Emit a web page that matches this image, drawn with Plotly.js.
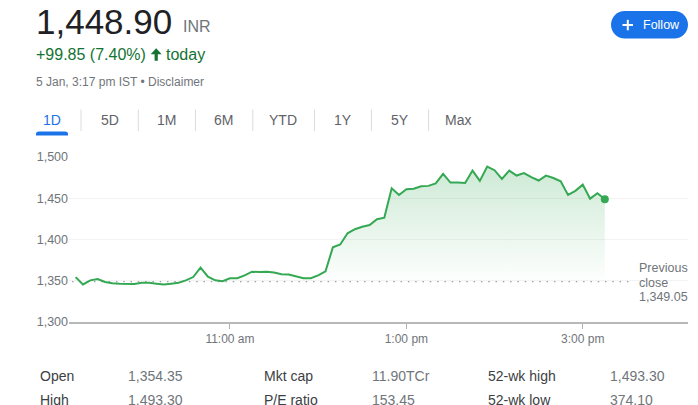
<!DOCTYPE html>
<html>
<head>
<meta charset="utf-8">
<script src="https://cdn.plot.ly/plotly-3.0.1.min.js"></script>
<style>
  html, body { margin: 0; padding: 0; background: #fff; }
  #chart { width: 698px; height: 405px; }
</style>
</head>
<body>
<div id="chart"></div>
<script>
// intraday prices, 5 minute samples
const day = '2024-01-05';
const times = [
    '09:15', '09:20', '09:25', '09:30', '09:35', '09:40', '09:45', '09:50', '09:55',
    '10:00', '10:05', '10:10', '10:15', '10:20', '10:25', '10:30', '10:35', '10:40', '10:45', '10:50', '10:55',
    '11:00', '11:05', '11:10', '11:15', '11:20', '11:25', '11:30', '11:35', '11:40', '11:45', '11:50', '11:55',
    '12:00', '12:05', '12:10', '12:15', '12:20', '12:25', '12:30', '12:35', '12:40', '12:45', '12:50', '12:55',
    '13:00', '13:05', '13:10', '13:15', '13:20', '13:25', '13:30', '13:35', '13:40', '13:45', '13:50', '13:55',
    '14:00', '14:05', '14:10', '14:15', '14:20', '14:25', '14:30', '14:35', '14:40', '14:45', '14:50', '14:55',
    '15:00', '15:05', '15:10', '15:15'
];
const prices = [
    1354.35, 1345.5, 1350.5, 1352, 1348.5, 1347, 1346.5, 1346.5, 1346,
    1347.5, 1347.5, 1346.5, 1345.5, 1346.5, 1347.5, 1350.5, 1354.5, 1366, 1355, 1350.5, 1349.5,
    1353, 1353, 1356.5, 1361, 1360.5, 1361, 1360, 1358, 1357.5, 1355, 1353, 1353,
    1356.5, 1361.5, 1390.5, 1394, 1407.5, 1412.5, 1415.5, 1417.5, 1424.5, 1426.5, 1462, 1454,
    1461, 1461.5, 1464.5, 1465, 1468, 1479.5, 1469, 1469, 1468.5, 1483.5, 1471, 1488.5,
    1484, 1473.5, 1483.5, 1477.5, 1480.5, 1475.5, 1471.5, 1477.5, 1474.5, 1470.5, 1454, 1459,
    1466.5, 1449.5, 1456, 1448.9
];
const prevClose = 1349.05;

const yTicks = [1300, 1350, 1400, 1450, 1500];
const yTickText = ['1,300', '1,350', '1,400', '1,450', '1,500'];
const xTickTimes = ['11:00', '13:00', '15:00'];
const xTickText = ['11:00 am', '1:00 pm', '3:00 pm'];

const tabs = ['1D', '5D', '1M', '6M', 'YTD', '1Y', '5Y', 'Max'];
const statLabelsA = ['Open', 'Mkt cap', '52-wk high'];
const statValuesA = ['1,354.35', '11.90TCr', '1,493.30'];
const statLabelsB = ['High', 'P/E ratio', '52-wk low'];
const statValuesB = ['1,493.30', '153.45', '374.10'];

// page geometry (pixels)
const W = 698, H = 405, L = 69, R = 10, T = 157, B = 83;
const pw = W - L - R, ph = H - T - B;
const px = x => (x - L) / pw;
const py = y => (H - B - y) / ph;

const FONT = '"Liberation Sans", Arial, sans-serif';
const GREEN = '#34a853';
const GREY = '#70757a';
const BLUE = '#1a73e8';

// build an svg path in paper units from pixel segments
function pathPx(segs) {
    return segs.map(s => {
        const cmd = s[0];
        const nums = [];
        for (let i = 1; i < s.length; i += 2) {
            nums.push(px(s[i]).toFixed(5) + ',' + py(s[i + 1]).toFixed(5));
        }
        return cmd + nums.join(' ');
    }).join(' ');
}

function text(x, y, str, size, color, anchor, extra) {
    return Object.assign({
        xref: 'paper', yref: 'paper', x: px(x), y: py(y),
        xanchor: anchor || 'left', yanchor: 'middle',
        text: str, showarrow: false,
        font: { family: FONT, size: size, color: color }
    }, extra || {});
}

const xs = times.map(t => day + ' ' + t);

const traces = [
    {
        type: 'scatter',
        mode: 'lines',
        x: xs,
        y: prices,
        line: { color: GREEN, width: 2 },
        fill: 'tozeroy',
        fillgradient: {
            type: 'vertical',
            start: 1345,
            stop: 1492,
            colorscale: [[0, 'rgba(52,168,83,0)'], [1, 'rgba(52,168,83,0.25)']]
        },
        hoverinfo: 'skip'
    },
    {
        type: 'scatter',
        mode: 'markers',
        x: [xs[xs.length - 1]],
        y: [prices[prices.length - 1]],
        marker: { color: GREEN, size: 8 },
        hoverinfo: 'skip'
    }
];

const annotations = [];
const shapes = [];

// header
annotations.push(text(34, 21, '1,448.90', 35, '#202124'));
annotations.push(text(181, 26.5, 'INR', 16, GREY));
annotations.push(text(34, 54.5, '+99.85 (7.40%)', 16, '#137333'));
annotations.push(text(164, 54.5, 'today', 16, '#137333'));
annotations.push(text(34, 81.5, '5 Jan, 3:17 pm IST • Disclaimer', 12, GREY));

shapes.push({
    type: 'path', xref: 'paper', yref: 'paper', layer: 'above',
    fillcolor: '#137333', line: { width: 0 },
    path: pathPx([['M', 156.2, 48.3], ['L', 161.7, 54.3], ['L', 157.8, 54.3], ['L', 157.8, 60.7],
        ['L', 154.6, 60.7], ['L', 154.6, 54.3], ['L', 150.7, 54.3], ['Z']])
});

// follow button
(function () {
    const x0 = 611, x1 = 688, y0 = 11, y1 = 38.5, yc = (y0 + y1) / 2, r = (y1 - y0) / 2, k = 0.5523 * r;
    shapes.push({
        type: 'path', xref: 'paper', yref: 'paper', layer: 'above',
        fillcolor: BLUE, line: { width: 0 },
        path: pathPx([['M', x0 + r, y0], ['L', x1 - r, y0], ['C', x1 - r + k, y0, x1, yc - k, x1, yc],
            ['C', x1, yc + k, x1 - r + k, y1, x1 - r, y1], ['L', x0 + r, y1],
            ['C', x0 + r - k, y1, x0, yc + k, x0, yc], ['C', x0, yc - k, x0 + r - k, y0, x0 + r, y0], ['Z']])
    });
    shapes.push({ type: 'line', xref: 'paper', yref: 'paper', layer: 'above',
        x0: px(622.5), x1: px(633), y0: py(25), y1: py(25), line: { color: '#fff', width: 2 } });
    shapes.push({ type: 'line', xref: 'paper', yref: 'paper', layer: 'above',
        x0: px(627.8), x1: px(627.8), y0: py(19.8), y1: py(30.3), line: { color: '#fff', width: 2 } });
    annotations.push(text(640.5, 25, 'Follow', 12.5, '#fff'));
})();

// range tabs
const tabCenters = [52, 109.5, 166.5, 223.5, 282.5, 342.5, 400, 458];
const tabSeps = [81, 138.3, 195.5, 252.8, 314.5, 371.4, 428.6];
tabs.forEach((t, i) => {
    annotations.push(text(tabCenters[i], 120, t, 14, i === 0 ? BLUE : '#5f6368', 'center'));
});
tabSeps.forEach(x => {
    shapes.push({ type: 'line', xref: 'paper', yref: 'paper', layer: 'above',
        x0: px(x), x1: px(x), y0: py(109.5), y1: py(131), line: { color: '#dadce0', width: 1 } });
});
shapes.push({
    type: 'path', xref: 'paper', yref: 'paper', layer: 'above',
    fillcolor: BLUE, line: { width: 0 },
    path: pathPx([['M', 36, 135.5], ['L', 36, 134], ['Q', 36, 131.5, 39, 131.5], ['L', 65, 131.5],
        ['Q', 68, 131.5, 68, 134], ['L', 68, 135.5], ['Z']])
});

// previous close reference line and label
shapes.push({
    type: 'line', xref: 'paper', yref: 'y', layer: 'below',
    x0: 0.005, x1: px(633), y0: prevClose, y1: prevClose,
    line: { color: '#9aa0a6', width: 1.5, dash: '1.5px,5.8px' }
});
annotations.push(text(637, 267.5, 'Previous', 12.5, GREY));
annotations.push(text(637, 282.5, 'close', 12.5, GREY));
annotations.push(text(637, 297, '1,349.05', 12.5, GREY));

// key stats table
const colX = [[39, 126.5], [262.5, 370.5], [486.5, 609]];
statLabelsA.forEach((lab, i) => {
    annotations.push(text(colX[i][0] - 1, 376, lab, 14, '#3c4043'));
    annotations.push(text(colX[i][1] - 1, 376, statValuesA[i], 14, GREY));
});
statLabelsB.forEach((lab, i) => {
    annotations.push(text(colX[i][0] - 1, 399.5, lab, 14, '#3c4043'));
    annotations.push(text(colX[i][1] - 1, 399.5, statValuesB[i], 14, GREY));
});

const layout = {
    width: W,
    height: H,
    margin: { l: L, r: R, t: T, b: B },
    paper_bgcolor: '#fff',
    plot_bgcolor: '#fff',
    showlegend: false,
    hovermode: false,
    font: { family: FONT, color: GREY },
    xaxis: {
        type: 'date',
        range: [day + ' 09:10:30', day + ' 16:11:36'],
        tickmode: 'array',
        tickvals: xTickTimes.map(t => day + ' ' + t),
        ticktext: xTickText,
        ticks: 'outside',
        ticklen: 5,
        tickwidth: 1,
        tickcolor: '#b0b0b0',
        showline: true,
        linecolor: '#b8b8b8',
        linewidth: 2,
        showgrid: false,
        zeroline: false,
        tickfont: { family: FONT, size: 12, color: GREY },
        automargin: false,
        fixedrange: true
    },
    yaxis: {
        range: [1300, 1500],
        tickmode: 'array',
        tickvals: yTicks,
        ticktext: yTickText,
        ticks: '',
        showline: false,
        showgrid: true,
        gridcolor: '#f3f3f3',
        gridwidth: 1,
        zeroline: false,
        tickfont: { family: FONT, size: 12.5, color: GREY },
        automargin: false,
        fixedrange: true
    },
    annotations: annotations,
    shapes: shapes
};

Plotly.newPlot('chart', traces, layout, { staticPlot: true, displayModeBar: false });
</script>
</body>
</html>
